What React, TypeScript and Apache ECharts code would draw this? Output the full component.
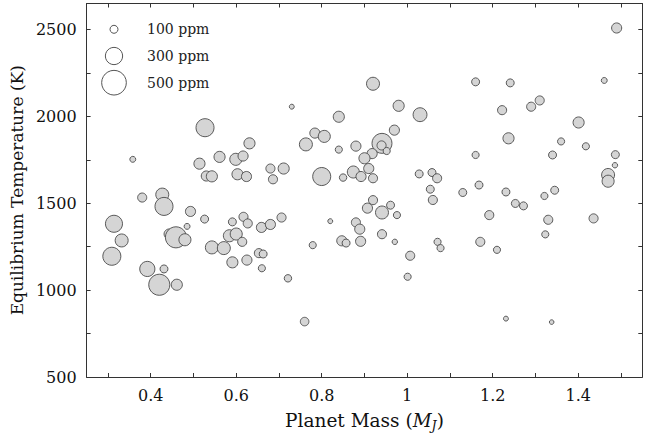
import React, { useEffect, useRef } from "react";
import * as echarts from "echarts";

// Planet mass (M_J)
const masses = [
  0.527, 0.358, 0.561, 0.514, 0.530, 0.543, 0.730, 0.840, 0.784, 0.806,
  0.763, 0.631, 0.840, 0.880, 0.599, 0.616, 0.603, 0.624, 0.680, 0.711,
  0.686, 0.800, 0.850, 0.874, 0.920, 0.980, 1.030, 1.160, 1.222, 0.970,
  0.941, 0.940, 0.952, 0.918, 0.900, 0.910, 0.892, 0.920, 1.028, 1.058,
  1.070, 1.160, 1.168, 1.054, 1.490, 1.461, 1.241, 1.310, 1.290, 1.401,
  1.237, 1.360, 1.418, 1.340, 1.487, 1.486, 1.470, 1.470, 0.380, 0.427,
  0.431, 0.493, 0.526, 0.314, 0.332, 0.309, 0.443, 0.459, 0.485, 0.480,
  0.543, 0.571, 0.584, 0.392, 0.431, 0.420, 0.461, 0.591, 0.617, 0.627,
  0.600, 0.614, 0.591, 0.625, 0.659, 0.680, 0.706, 0.653, 0.663, 0.660,
  0.721, 0.760, 0.779, 0.820, 0.880, 0.889, 0.847, 0.857, 0.891, 0.920,
  0.907, 0.941, 0.961, 0.976, 1.060, 1.130, 0.941, 0.971, 1.007, 1.001,
  1.071, 1.078, 1.192, 1.171, 1.210, 1.231, 1.253, 1.272, 1.321, 1.345,
  1.330, 1.323, 1.436, 1.231, 1.338,
];

// Equilibrium temperature (K)
const temps = [
  1935, 1753, 1767, 1728, 1657, 1655, 2056, 1998, 1904, 1885,
  1839, 1845, 1809, 1829, 1753, 1772, 1667, 1654, 1700, 1700,
  1638, 1654, 1648, 1680, 2188, 2061, 2010, 2199, 2036, 1921,
  1845, 1833, 1801, 1786, 1759, 1700, 1654, 1644, 1669, 1677,
  1644, 1778, 1605, 1581, 2509, 2207, 2193, 2092, 2056, 1965,
  1874, 1856, 1828, 1778, 1780, 1719, 1663, 1627, 1533, 1550,
  1482, 1453, 1409, 1382, 1286, 1195, 1323, 1304, 1367, 1290,
  1246, 1242, 1313, 1122, 1122, 1031, 1031, 1393, 1422, 1384,
  1323, 1278, 1160, 1173, 1361, 1378, 1418, 1213, 1208, 1126,
  1068, 819, 1259, 1397, 1390, 1351, 1284, 1271, 1281, 1518,
  1472, 1447, 1489, 1432, 1519, 1562, 1322, 1278, 1198, 1077,
  1278, 1242, 1432, 1278, 1232, 1565, 1499, 1485, 1542, 1575,
  1405, 1321, 1413, 836, 816,
];

// Signal (ppm)
const ppms = [
  320, 65, 160, 160, 140, 160, 50, 160, 140, 180,
  200, 160, 85, 140, 180, 140, 160, 140, 120, 160,
  120, 320, 90, 180, 200, 160, 220, 100, 120, 140,
  370, 120, 85, 140, 160, 140, 140, 120, 100, 100,
  120, 85, 100, 100, 140, 65, 100, 120, 120, 160,
  160, 85, 85, 100, 100, 57, 200, 180, 120, 200,
  320, 140, 100, 295, 200, 320, 140, 400, 65, 180,
  200, 200, 180, 250, 100, 400, 160, 100, 120, 120,
  180, 120, 160, 140, 140, 140, 120, 120, 100, 85,
  90, 110, 85, 50, 120, 140, 140, 100, 140, 120,
  140, 200, 100, 85, 120, 100, 120, 57, 120, 85,
  85, 85, 120, 120, 85, 100, 100, 100, 85, 100,
  120, 85, 120, 50, 45,
];

const xTickValues = [0.3, 0.4, 0.5, 0.6, 0.7, 0.8, 0.9, 1.0, 1.1, 1.2, 1.3, 1.4, 1.5];
const xLabelValues = [0.4, 0.6, 0.8, 1, 1.2, 1.4];
const yTickValues = [500, 750, 1000, 1250, 1500, 1750, 2000, 2250, 2500];
const yLabelValues = [500, 1000, 1500, 2000, 2500];
const legendPpm = [100, 300, 500];

const sizeOf = (ppm: number) => 8 * Math.pow(ppm / 100, 0.7);

const FONT = "DejaVu Serif";
const AXIS_COLOR = "#333";

export default function App() {
  const ref = useRef<HTMLDivElement>(null);

  useEffect(() => {
    if (!ref.current) return;
    const chart = echarts.init(ref.current, null, { renderer: "svg" });

    const data = masses.map((m, i) => [m, temps[i], ppms[i]]);

    const common = {
      type: "value" as const,
      splitLine: { show: false },
      axisLine: { show: true, onZero: false, lineStyle: { color: AXIS_COLOR, width: 1 } },
    };

    const legendX = 114;
    const legendY = [29.3, 56, 82.7];

    const graphic: any[] = [];
    legendPpm.forEach((p, i) => {
      graphic.push({
        type: "circle",
        shape: { cx: legendX, cy: legendY[i], r: sizeOf(p) / 2 },
        style: { fill: "#fff", stroke: "#555", lineWidth: 1 },
        z: 10,
      });
      graphic.push({
        type: "text",
        x: 147,
        y: legendY[i],
        style: {
          text: `${p} ppm`,
          fontFamily: FONT,
          fontSize: 14,
          fill: "#222",
          verticalAlign: "middle",
          align: "left",
        },
        z: 10,
      });
    });

    chart.setOption({
      animation: false,
      backgroundColor: "#fff",
      grid: { left: 79, top: 3.5, right: 2.7, bottom: 58.7, containLabel: false },
      xAxis: [
        {
          ...common,
          min: 0.25,
          max: 1.55,
          position: "bottom",
          axisTick: { inside: true, length: 4, customValues: xTickValues, lineStyle: { color: AXIS_COLOR } },
          axisLabel: {
            customValues: xLabelValues,
            formatter: (v: number) => String(v),
            margin: 10,
            fontFamily: FONT,
            fontSize: 16,
            color: "#111",
          },
          name: "Planet Mass ({i|M}{s|J})",
          nameLocation: "middle",
          nameGap: 31,
          nameTextStyle: {
            fontFamily: FONT,
            fontSize: 18.5,
            color: "#111",
            rich: {
              i: { fontFamily: FONT, fontStyle: "italic", fontSize: 18.5, color: "#111", lineHeight: 24 },
              s: { fontFamily: FONT, fontStyle: "italic", fontSize: 12.5, color: "#111", verticalAlign: "bottom", lineHeight: 24 },
            },
          },
        },
        {
          ...common,
          min: 0.25,
          max: 1.55,
          position: "top",
          axisTick: { inside: true, length: 4, customValues: xTickValues, lineStyle: { color: AXIS_COLOR } },
          axisLabel: { show: false },
        },
      ],
      yAxis: [
        {
          ...common,
          min: 500,
          max: 2650,
          position: "left",
          axisTick: { inside: true, length: 4, customValues: yTickValues, lineStyle: { color: AXIS_COLOR } },
          axisLabel: {
            customValues: yLabelValues,
            formatter: (v: number) => String(v),
            margin: 10,
            fontFamily: FONT,
            fontSize: 16,
            color: "#111",
          },
          name: "Equilibrium Temperature (K)",
          nameLocation: "middle",
          nameRotate: 90,
          nameGap: 60,
          nameTextStyle: { fontFamily: FONT, fontSize: 17, color: "#111" },
        },
        {
          ...common,
          min: 500,
          max: 2650,
          position: "right",
          axisTick: { inside: true, length: 4, customValues: yTickValues, lineStyle: { color: AXIS_COLOR } },
          axisLabel: { show: false },
        },
      ],
      series: [
        {
          type: "scatter",
          xAxisIndex: 0,
          yAxisIndex: 0,
          data,
          symbol: "circle",
          symbolSize: (val: number[]) => sizeOf(val[2]),
          itemStyle: { color: "#d5d5d5", borderColor: "#4a4a4a", borderWidth: 0.9, opacity: 1 },
          emphasis: { disabled: true },
        },
      ],
      graphic,
    });

    return () => chart.dispose();
  }, []);

  return (
    <div
      ref={ref}
      style={{ position: "fixed", left: 0, top: 0, width: 645, height: 437, background: "#fff" }}
    />
  );
}
